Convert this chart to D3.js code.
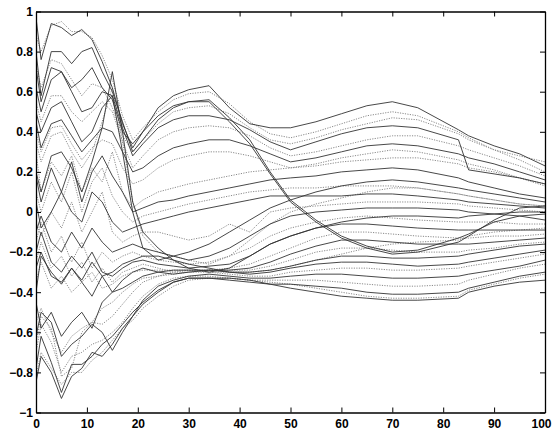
<!DOCTYPE html>
<html><head><meta charset="utf-8">
<script src="https://cdn.jsdelivr.net/npm/d3@7"></script>
<style>body{margin:0;background:#fff}svg{display:block}</style>
</head><body>
<script>
// x positions shared by every series
const xs = [0,1,3,5,7,9,11,13,15,17,19,21,24,27,30,34,38,42,46,50,55,60,65,70,75,83,85,90,95,100];

// upper group
const U1 = [.97,.76,.94,.92,.88,.91,.86,.75,.62,.44,.32,.40,.52,.58,.61,.63,.52,.44,.42,.42,.45,.49,.53,.55,.52,.41,.38,.33,.29,.23];
const U2 = [.88,.80,.93,.95,.90,.90,.87,.78,.66,.48,.36,.42,.50,.56,.59,.60,.54,.45,.39,.37,.40,.44,.48,.50,.48,.40,.37,.31,.28,.25];
const U3 = [.80,.58,.80,.80,.74,.80,.82,.70,.60,.45,.30,.36,.46,.52,.55,.56,.47,.36,.20,.06,-.04,-.12,-.17,-.20,-.19,-.13,-.11,-.05,-.02,-.01];
const U4 = [.72,.55,.72,.70,.62,.66,.72,.62,.56,.40,.34,.40,.48,.53,.55,.55,.45,.34,.19,.05,-.05,-.13,-.18,-.21,-.20,-.15,-.12,-.04,.02,.03];
const U5 = [.74,.62,.76,.74,.66,.58,.64,.62,.52,.38,.30,.36,.44,.50,.52,.53,.49,.42,.36,.34,.37,.41,.44,.47,.46,.39,.36,.31,.26,.20];
const U6 = [.62,.50,.66,.70,.60,.50,.52,.60,.58,.42,.28,.34,.42,.46,.48,.48,.46,.41,.35,.31,.35,.39,.42,.43,.42,.36,.21,.19,.17,.14];
const U7 = [.55,.45,.58,.58,.50,.45,.50,.55,.50,.35,.22,.28,.36,.40,.42,.43,.42,.38,.32,.28,.30,.33,.36,.38,.38,.33,.31,.27,.23,.18];
const U8 = [.45,.32,.44,.46,.38,.30,.36,.42,.40,.30,.20,.22,.28,.32,.34,.36,.36,.33,.29,.25,.27,.30,.33,.34,.33,.29,.27,.24,.20,.16];
const U9 = [.40,.30,.42,.43,.34,.26,.32,.36,.34,.22,.14,.16,.22,.26,.28,.30,.30,.28,.25,.22,.24,.27,.29,.31,.30,.26,.24,.21,.17,.13];

// lines plunging after x = 15
const P1 = [.50,.40,.52,.55,.45,.35,.40,.52,.58,.30,.00,-.18,-.24,-.22,-.20,-.16,-.10,-.04,.02,.06,.10,.13,.15,.16,.15,.12,.11,.09,.07,.05];
const P2 = [.35,.25,.38,.40,.30,.22,.30,.45,.62,.35,.05,-.12,-.20,-.22,-.24,-.26,-.22,-.14,-.06,.00,.04,.07,.10,.12,.12,.09,.08,.06,.04,.03];
const P3 = [.20,.10,.28,.30,.22,.10,.25,.42,.70,.40,.05,-.10,-.18,-.24,-.28,-.30,-.28,-.22,-.16,-.12,-.08,-.05,-.03,-.02,-.02,-.03,-.02,-.01,.00,.00];

// middle group
const M1 = [.30,.10,.25,.18,.28,.10,.22,.15,.30,.10,.02,.06,.10,.12,.14,.16,.18,.20,.21,.22,.23,.25,.26,.27,.27,.24,.22,.20,.17,.14];
const M2 = [.18,.05,.22,.10,.25,.05,.20,.28,.18,.10,.00,.02,.05,.06,.08,.10,.12,.14,.16,.17,.18,.20,.21,.22,.21,.17,.15,.12,.09,.07];
const M3 = [.10,.00,.15,.05,.20,.00,.15,.22,.08,.00,-.05,-.02,.00,.02,.04,.06,.08,.10,.11,.12,.12,.13,.13,.13,.12,.09,.08,.06,.04,.03];
const M4 = [.05,-.08,.00,.10,.00,-.05,.10,.05,-.05,-.10,-.08,-.06,-.04,-.02,.00,.02,.04,.06,.08,.08,.08,.08,.09,.09,.08,.06,.05,.04,.03,.02];
const M5 = [-.05,-.12,.00,-.08,.05,-.10,.00,.10,-.10,-.15,-.12,-.10,-.10,-.12,-.14,-.12,-.06,-.10,.00,.02,.03,.04,.05,.05,.05,.04,.03,.02,.01,.00];
const M6 = [-.10,-.02,-.15,-.20,-.10,-.18,-.08,-.15,-.20,-.18,-.16,-.18,-.20,-.22,-.24,-.22,-.18,-.12,-.06,-.02,.00,.01,.02,.02,.02,.01,.00,-.01,-.02,-.04];
const M7 = [-.15,-.05,-.20,-.12,-.25,-.15,-.28,-.20,-.25,-.22,-.20,-.22,-.24,-.25,-.26,-.25,-.22,-.18,-.12,-.08,-.05,-.03,-.02,-.03,-.04,-.05,-.05,-.05,-.06,-.06];
const M8 = [-.20,-.10,-.25,-.30,-.22,-.28,-.20,-.30,-.32,-.28,-.25,-.24,-.26,-.27,-.28,-.27,-.26,-.22,-.16,-.12,-.08,-.06,-.06,-.07,-.08,-.09,-.09,-.09,-.09,-.09];
const M9 = [-.25,-.15,-.28,-.22,-.32,-.25,-.35,-.28,-.35,-.30,-.28,-.26,-.28,-.30,-.30,-.29,-.28,-.26,-.22,-.18,-.13,-.10,-.10,-.11,-.12,-.13,-.13,-.12,-.12,-.11];
const M10 = [-.28,-.20,-.32,-.35,-.28,-.34,-.25,-.32,-.40,-.34,-.30,-.28,-.30,-.31,-.30,-.29,-.29,-.28,-.25,-.21,-.17,-.14,-.14,-.15,-.16,-.16,-.16,-.15,-.14,-.13];
const M11 = [-.35,-.25,-.38,-.32,-.40,-.35,-.30,-.38,-.36,-.32,-.30,-.29,-.29,-.29,-.29,-.29,-.29,-.29,-.27,-.24,-.20,-.18,-.18,-.19,-.20,-.20,-.19,-.18,-.16,-.15];
const M12 = [-.40,-.22,-.30,-.36,-.28,-.35,-.42,-.32,-.30,-.26,-.24,-.22,-.22,-.24,-.26,-.28,-.30,-.30,-.29,-.27,-.24,-.22,-.22,-.23,-.23,-.22,-.21,-.19,-.17,-.16];

// bottom group
const B1 = [-.45,-.58,-.50,-.62,-.55,-.50,-.58,-.45,-.40,-.38,-.35,-.32,-.30,-.29,-.29,-.29,-.30,-.31,-.30,-.28,-.26,-.25,-.25,-.26,-.27,-.26,-.25,-.23,-.21,-.19];
const B2 = [-.55,-.48,-.60,-.70,-.62,-.58,-.55,-.56,-.52,-.46,-.40,-.35,-.32,-.30,-.29,-.30,-.31,-.32,-.32,-.30,-.29,-.28,-.28,-.29,-.29,-.28,-.27,-.25,-.23,-.21];
const B3 = [-.62,-.50,-.55,-.72,-.66,-.62,-.56,-.60,-.69,-.60,-.52,-.44,-.37,-.34,-.32,-.31,-.32,-.33,-.33,-.32,-.31,-.31,-.32,-.33,-.33,-.32,-.31,-.29,-.27,-.24];
const B4 = [-.70,-.56,-.65,-.80,-.72,-.70,-.66,-.64,-.60,-.55,-.48,-.42,-.36,-.33,-.32,-.32,-.33,-.34,-.34,-.34,-.34,-.35,-.36,-.37,-.37,-.36,-.34,-.31,-.28,-.26];
const B5 = [-.78,-.62,-.75,-.90,-.76,-.76,-.72,-.66,-.62,-.56,-.50,-.45,-.39,-.35,-.33,-.33,-.34,-.35,-.36,-.36,-.37,-.38,-.40,-.41,-.41,-.40,-.38,-.35,-.32,-.30];
const B6 = [-.82,-.70,-.78,-.86,-.80,-.80,-.74,-.70,-.64,-.58,-.54,-.48,-.42,-.37,-.34,-.33,-.33,-.34,-.35,-.36,-.38,-.40,-.42,-.43,-.43,-.42,-.39,-.36,-.33,-.31];
const B7 = [-.85,-.72,-.80,-.93,-.82,-.78,-.70,-.72,-.66,-.58,-.52,-.46,-.40,-.35,-.33,-.33,-.33,-.34,-.36,-.38,-.40,-.42,-.43,-.44,-.44,-.43,-.40,-.37,-.35,-.34];
const B8 = [-.65,-.52,-.58,-.82,-.78,-.60,-.55,-.48,-.45,-.40,-.36,-.33,-.32,-.31,-.30,-.30,-.30,-.30,-.29,-.27,-.24,-.21,-.18,-.16,-.15,-.14,-.12,-.10,-.09,-.08];

const solidSeries = [U1,U3,U4,U6,U8,P1,P3,M2,M4,M6,M8,M10,M12,B1,B3,B5,B7];
const dottedSeries = [U2,U5,U7,U9,P2,M1,M3,M5,M7,M9,M11,B2,B4,B6,B8];

const xTicks = [0,10,20,30,40,50,60,70,80,90,100];
const yTicks = [-1,-0.8,-0.6,-0.4,-0.2,0,0.2,0.4,0.6,0.8,1];
const yTickLabels = ["\u22121","\u22120.8","\u22120.6","\u22120.4","\u22120.2","0","0.2","0.4","0.6","0.8","1"];

const W = 552, H = 433;
const L = 36, R = 545, T = 11.5, B = 412.5;

const svg = d3.select("body").append("svg").attr("width", W).attr("height", H);
const x = d3.scaleLinear().domain([0,100]).range([L,R]);
const y = d3.scaleLinear().domain([-1,1]).range([B,T]);

svg.append("clipPath").attr("id","clip").append("rect")
  .attr("x",L).attr("y",T).attr("width",R-L).attr("height",B-T);

const line = d3.line().x((d,i)=>x(xs[i])).y(d=>y(d));
const g = svg.append("g").attr("clip-path","url(#clip)");

g.selectAll("path.dot").data(dottedSeries).join("path")
  .attr("class","dot").attr("d",line).attr("fill","none")
  .attr("stroke","#8a8a8a").attr("stroke-width",1).attr("stroke-dasharray","1.2,1.3");
g.selectAll("path.sol").data(solidSeries).join("path")
  .attr("class","sol").attr("d",line).attr("fill","none")
  .attr("stroke","#333").attr("stroke-width",0.9);

const font = "Liberation Sans, Arial, Helvetica, sans-serif";
function style(sel){
  sel.select(".domain").attr("stroke","#000").attr("stroke-width",1.3);
  sel.selectAll(".tick line").attr("stroke","#000");
  sel.selectAll("text").attr("font-family",font).attr("font-size",12).attr("font-weight","bold").attr("fill","#000");
}
const xAxisG = svg.append("g").attr("transform",`translate(0,${B})`)
  .call(d3.axisBottom(x).tickValues(xTicks).tickSizeInner(-5).tickSizeOuter(0).tickPadding(7).tickFormat(d3.format("d")))
  .call(style);
// keep the last label inside the window
xAxisG.selectAll(".tick text").filter(d=>d===100).attr("text-anchor","end").attr("x",6);
svg.append("g").attr("transform",`translate(0,${T})`)
  .call(d3.axisTop(x).tickValues(xTicks).tickSizeInner(-5).tickSizeOuter(0).tickFormat(""))
  .call(style);
svg.append("g").attr("transform",`translate(${L},0)`)
  .call(d3.axisLeft(y).tickValues(yTicks).tickSizeInner(-5).tickSizeOuter(0).tickPadding(3).tickFormat((d,i)=>yTickLabels[i]))
  .call(style);
svg.append("g").attr("transform",`translate(${R},0)`)
  .call(d3.axisRight(y).tickValues(yTicks).tickSizeInner(-5).tickSizeOuter(0).tickFormat(""))
  .call(style);
</script>
</body></html>
